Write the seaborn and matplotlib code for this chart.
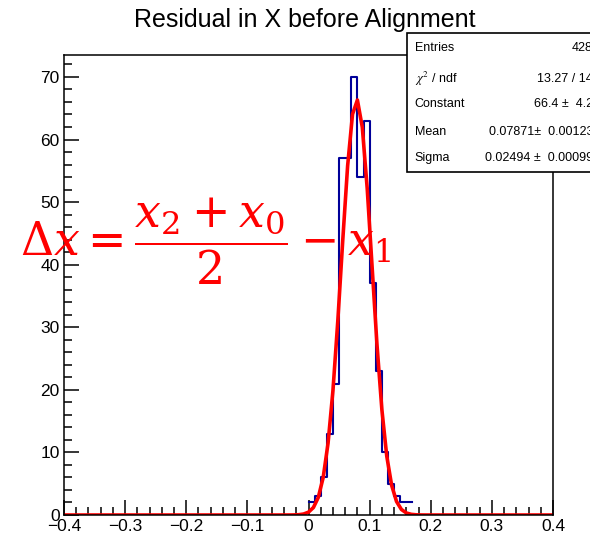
import numpy as np
import pandas as pd
import matplotlib
matplotlib.use("Agg")
import matplotlib.pyplot as plt
from matplotlib.ticker import MultipleLocator
from matplotlib.patches import Rectangle
import seaborn as sns

# histogram contents (bin width 0.01)
bin_lo = [0.00, 0.01, 0.02, 0.03, 0.04, 0.05, 0.06, 0.07, 0.08,
          0.09, 0.10, 0.11, 0.12, 0.13, 0.14, 0.15, 0.16]
counts = [2, 3, 6, 13, 21, 57, 57, 70, 54, 63, 37, 23, 10, 5, 3, 2, 2]

# gaussian fit parameters from the stats box
fit_const = 66.4
fit_mean = 0.07871
fit_sigma = 0.02494

xtick_vals = [-0.4, -0.3, -0.2, -0.1, 0.0, 0.1, 0.2, 0.3, 0.4]
xtick_labels = ["\u22120.4", "\u22120.3", "\u22120.2", "\u22120.1", "0", "0.1", "0.2", "0.3", "0.4"]
ytick_vals = [0, 10, 20, 30, 40, 50, 60, 70]

stat_names = ["Entries", r"$\chi^{2}$ / ndf", "Constant", "Mean", "Sigma"]
stat_values = ["428", "13.27 / 14", "66.4 \u00b1  4.2", "0.07871\u00b1  0.00123", "0.02494 \u00b1  0.00099"]

plt.rcParams['font.family'] = ['Liberation Sans', 'DejaVu Sans']
plt.rcParams['mathtext.fontset'] = 'stix'

fig = plt.figure(figsize=(5.9, 5.42), dpi=100)
ax = fig.add_axes([0.1085, 0.0498, 0.8288, 0.8487])

df = pd.DataFrame({"x": np.array(bin_lo) + 0.005, "n": counts})
edges = [round(b, 2) for b in bin_lo] + [0.17]
sns.histplot(data=df, x="x", weights="n", bins=edges, element="step", fill=False,
             color="#000099", linewidth=1.5, ax=ax)

# fit curve drawn like ROOT does (100 points over the axis range)
xf = np.linspace(-0.4, 0.4, 101)
yf = fit_const * np.exp(-0.5 * ((xf - fit_mean) / fit_sigma) ** 2)
sns.lineplot(x=xf, y=yf, color="red", linewidth=2.6, ax=ax)

ax.set_xlim(-0.4, 0.4)
ax.set_ylim(0, 73.5)
ax.set_xlabel("")
ax.set_ylabel("")
ax.set_xticks(xtick_vals)
ax.set_xticklabels(xtick_labels)
ax.set_yticks(ytick_vals)
ax.set_yticklabels([str(v) for v in ytick_vals])
ax.xaxis.set_minor_locator(MultipleLocator(0.02))
ax.yaxis.set_minor_locator(MultipleLocator(2))
ax.tick_params(which="both", direction="in", top=False, right=False, width=1.1,
               labelsize=12.5, pad=3)
ax.tick_params(which="major", length=10.5)
ax.tick_params(which="minor", length=5.5)
for s in ax.spines.values():
    s.set_linewidth(1.1)

fig.text(0.517, 0.964, "Residual in X before Alignment", ha="center", va="center", fontsize=18)

# stats box
fig.patches.append(Rectangle((0.6898, 0.6827), 0.4, 0.256, transform=fig.transFigure,
                             facecolor="white", edgecolor="black", linewidth=1.2, zorder=5))
row_y = [0.9114, 0.854, 0.808, 0.756, 0.7085]
for name, val, yy in zip(stat_names, stat_values, row_y):
    fig.text(0.703, yy, name, ha="left", va="center", fontsize=9, zorder=6)
    fig.text(1.005, yy, val, ha="right", va="center", fontsize=9, zorder=6)

fig.text(0.034, 0.555, r"$\Delta x = \dfrac{x_2 + x_0}{2} - x_1$", color="red",
         ha="left", va="center", fontsize=33, zorder=7, math_fontfamily="dejavuserif")

fig.savefig("out.png", dpi=100)
